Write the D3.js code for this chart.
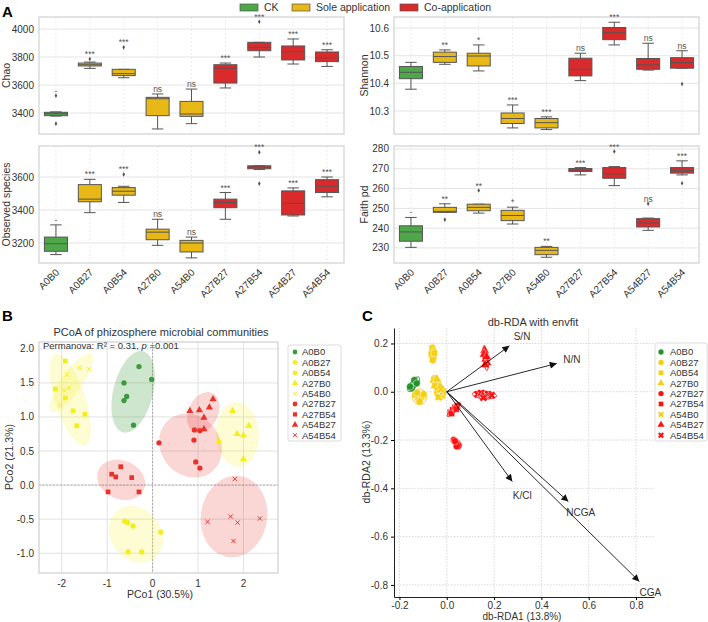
<!DOCTYPE html>
<html>
<head>
<meta charset="utf-8">
<script src="https://cdn.jsdelivr.net/npm/d3@7"></script>
<style>
  body { margin: 0; background: #fff; }
  svg { display: block; font-family: "Liberation Sans", Arial, sans-serif; }
</style>
</head>
<body>
<svg id="fig" width="708" height="622"></svg>
<script>
// ---------- data ----------
const groups = ["A0B0", "A0B27", "A0B54", "A27B0", "A54B0", "A27B27", "A27B54", "A54B27", "A54B54"];
const treatOf = ["CK", "Sole", "Sole", "Sole", "Sole", "Co", "Co", "Co", "Co"];
const treatNames = ["CK", "Sole application", "Co-application"];

// box stats: [low whisker, q1, median, q3, high whisker]
const chaoStats = [
  [3378, 3381, 3395, 3405, 3408], [3719, 3736, 3745, 3757, 3764], [3652, 3667, 3681, 3712, 3712],
  [3286, 3381, 3502, 3512, 3536], [3324, 3376, 3393, 3483, 3571], [3579, 3614, 3721, 3745, 3757],
  [3800, 3845, 3869, 3905, 3905], [3750, 3779, 3838, 3879, 3929], [3733, 3767, 3795, 3836, 3852]
];
const chaoOut = [[3524, 3324], [3786], [3869], [], [], [], [4052], [], []];
const chaoSig = ["-", "***", "***", "ns", "ns", "***", "***", "***", "***"];

const obsStats = [
  [3130, 3150, 3196, 3236, 3310], [3384, 3450, 3466, 3554, 3586], [3446, 3490, 3514, 3536, 3544],
  [3186, 3220, 3266, 3284, 3344], [3110, 3146, 3200, 3216, 3236], [3344, 3414, 3446, 3466, 3506],
  [3646, 3650, 3660, 3668, 3668], [3364, 3370, 3440, 3516, 3534], [3480, 3506, 3544, 3584, 3600]
];
const obsOut = [[], [], [3616], [], [], [], [3750, 3560], [], []];
const obsSig = ["-", "***", "***", "ns", "ns", "***", "***", "***", "***"];

const shanStats = [
  [10.379, 10.417, 10.440, 10.461, 10.476], [10.469, 10.476, 10.497, 10.513, 10.521], [10.445, 10.463, 10.499, 10.509, 10.539],
  [10.239, 10.255, 10.273, 10.293, 10.322], [10.233, 10.239, 10.258, 10.273, 10.279], [10.410, 10.427, 10.451, 10.491, 10.509],
  [10.539, 10.558, 10.583, 10.602, 10.621], [10.448, 10.451, 10.467, 10.490, 10.545], [10.455, 10.455, 10.475, 10.493, 10.518]
];
const shanOut = [[], [], [], [], [], [], [], [], [10.398]];
const shanSig = ["", "**", "*", "***", "***", "ns", "***", "ns", "ns"];

const faithStats = [
  [230.3, 233.4, 238.1, 241.2, 245.4], [248.0, 248.0, 248.5, 250.5, 252.3], [247.6, 248.8, 250.5, 252.1, 252.1],
  [242.1, 243.8, 246.4, 249.0, 250.6], [225.3, 226.6, 228.8, 230.3, 230.8], [266.9, 268.6, 269.4, 270.1, 270.6],
  [261.5, 265.2, 267.4, 270.6, 271.1], [238.9, 240.6, 242.6, 244.8, 245.1], [266.9, 267.8, 269.1, 270.6, 274.0]
];
const faithOut = [[], [244.3], [259.0], [], [], [], [278.7], [252.3], [262.7]];
const faithSig = ["-", "**", "**", "*", "**", "***", "***", "ns", "***"];

const chaoTicks = [3400, 3600, 3800, 4000];
const obsTicks = [3200, 3400, 3600];
const shanTicks = [10.3, 10.4, 10.5, 10.6];
const faithTicks = [230, 240, 250, 260, 270, 280];

// PCoA sample scores
const pcoaPoints = [
  [[-0.30, 1.74], [-0.63, 1.50], [-0.57, 1.30], [-0.63, 1.24], [-0.02, 1.55], [-0.42, 0.88]],
  [[-0.61, -0.53], [-0.55, -0.55], [-0.43, -0.60], [0.18, -0.69], [-0.54, -0.98], [-0.24, -0.98]],
  [[-1.92, 1.82], [-2.14, 1.41], [-1.92, 1.28], [-1.75, 1.09], [-1.49, 1.04], [-1.67, 0.87]],
  [[1.76, 1.09], [2.12, 0.87], [1.86, 0.75], [2.00, 0.73], [1.46, 0.64], [2.00, 0.38]],
  [[-1.60, 1.72], [-1.40, 1.70], [-1.84, 1.43], [-1.95, 1.39], [-2.03, 1.17], [-1.89, 1.62]],
  [[0.14, 0.62], [0.92, 0.81], [1.04, 0.80], [0.91, 0.66], [0.95, 0.34], [1.04, 0.25]],
  [[-0.70, 0.27], [-0.90, 0.16], [-0.81, 0.12], [-0.46, 0.11], [-0.98, -0.10], [-0.30, -0.10]],
  [[0.82, 1.09], [1.03, 1.10], [1.25, 1.14], [1.33, 1.26], [1.13, 0.99], [1.13, 0.82]],
  [[1.81, 0.09], [1.21, -0.54], [1.72, -0.46], [1.87, -0.55], [2.36, -0.49], [1.78, -0.82]]
];
const pcoaXTicks = [-2, -1, 0, 1, 2];
const pcoaYTicks = [-1.0, -0.5, 0.0, 0.5, 1.0, 1.5, 2.0];

// db-RDA site scores
const rdaPoints = [
  [[-0.148, 0.014], [-0.141, 0.028], [-0.131, 0.041], [-0.137, 0.048], [-0.155, 0.021], [-0.127, 0.035]],
  [[-0.132, -0.015], [-0.120, -0.032], [-0.106, -0.022], [-0.098, -0.010], [-0.115, -0.040], [-0.125, -0.005]],
  [[-0.062, 0.180], [-0.058, 0.168], [-0.065, 0.155], [-0.055, 0.145], [-0.060, 0.132], [-0.052, 0.160]],
  [[-0.055, 0.048], [-0.045, 0.040], [-0.035, 0.030], [-0.050, 0.025], [-0.030, 0.018], [-0.042, 0.052]],
  [[-0.040, 0.005], [-0.030, -0.005], [-0.020, -0.015], [-0.035, -0.022], [-0.015, 0.000], [-0.025, 0.010]],
  [[0.030, -0.200], [0.038, -0.208], [0.045, -0.214], [0.050, -0.222], [0.042, -0.226], [0.035, -0.205]],
  [[0.015, -0.085], [0.025, -0.075], [0.035, -0.065], [0.045, -0.058], [0.020, -0.090], [0.040, -0.072]],
  [[0.160, 0.170], [0.158, 0.155], [0.165, 0.135], [0.170, 0.120], [0.162, 0.112], [0.168, 0.145]],
  [[0.130, -0.010], [0.145, -0.005], [0.160, -0.015], [0.175, -0.010], [0.190, -0.015], [0.155, -0.025]]
];
const envNames = ["S/N", "N/N", "K/Cl", "NCGA", "CGA"];
const envX = [0.265, 0.465, 0.277, 0.514, 0.814];
const envY = [0.190, 0.117, -0.372, -0.455, -0.786];
const rdaXTicks = [-0.2, 0.0, 0.2, 0.4, 0.6, 0.8];
const rdaYTicks = [-0.8, -0.6, -0.4, -0.2, 0.0, 0.2];
const rdaLegendOrder = ["A0B0", "A0B27", "A0B54", "A27B0", "A27B27", "A27B54", "A54B0", "A54B27", "A54B54"];

// ---------- styles ----------
const boxColor = {CK: "#4ea84a", Sole: "#e8b816", Co: "#da2a2c"};
const pcoaColor = {CK: "#3c9a3c", Sole: "#f3ee1c", Co: "#e8322b"};
const rdaColor = {CK: "#27922a", Sole: "#f5cf10", Co: "#ff1010"};
const shapeOf = ["circle", "circle", "square", "triangle", "x", "circle", "square", "triangle", "x"];
const txt = "#333";

const svg = d3.select("#fig");
svg.append("rect").attr("width", 708).attr("height", 622).attr("fill", "#fff");

function marker(sel, shape, size, filledX) {
  if (shape === "x") {
    if (filledX) {
      sel.append("path").attr("d", d3.symbol(d3.symbolCross, size)()).attr("transform", "rotate(45)");
    } else {
      const s = Math.sqrt(size) / 2;
      sel.append("path").attr("d", `M${-s},${-s}L${s},${s}M${-s},${s}L${s},${-s}`).attr("fill", "none");
    }
    return;
  }
  const t = {circle: d3.symbolCircle, square: d3.symbolSquare, triangle: d3.symbolTriangle}[shape];
  sel.append("path").attr("d", d3.symbol(t, size)());
}

function ellipsePath(pts, sx, sy, k) {
  const n = pts.length;
  const mx = d3.mean(pts, d => d[0]), my = d3.mean(pts, d => d[1]);
  let sxx = 0, syy = 0, sxy = 0;
  pts.forEach(([a, b]) => { sxx += (a - mx) ** 2; syy += (b - my) ** 2; sxy += (a - mx) * (b - my); });
  sxx /= n - 1; syy /= n - 1; sxy /= n - 1;
  const l11 = Math.sqrt(sxx), l21 = sxy / l11, l22 = Math.sqrt(Math.max(syy - l21 * l21, 0));
  const ring = d3.range(90).map(i => {
    const t = i / 90 * 2 * Math.PI, u = Math.cos(t), v = Math.sin(t);
    return [sx(mx + k * l11 * u), sy(my + k * (l21 * u + l22 * v))];
  });
  return d3.line().curve(d3.curveLinearClosed)(ring);
}

// ---------- panel A: box plots ----------
svg.append("text").attr("x", 2).attr("y", 17).attr("font-size", 15).attr("font-weight", "bold").text("A");

const legA = svg.append("g");
const legAX = [240, 292, 400];
treatNames.forEach((name, i) => {
  legA.append("rect").attr("x", legAX[i]).attr("y", 4).attr("width", 18).attr("height", 7)
    .attr("fill", boxColor[["CK", "Sole", "Co"][i]]).attr("stroke", "#555").attr("stroke-width", 0.7);
  legA.append("text").attr("x", legAX[i] + 24).attr("y", 11).attr("font-size", 10.5).attr("fill", txt).text(name);
});

const boxPanels = [
  {stats: chaoStats, out: chaoOut, sig: chaoSig, ticks: chaoTicks, label: "Chao", range: [39, 344], top: 17, bottom: 134, domain: [3250, 4086], fmt: d3.format("d"), lx: 10, xlab: false},
  {stats: obsStats, out: obsOut, sig: obsSig, ticks: obsTicks, label: "Observed species", range: [39, 344], top: 146, bottom: 263, domain: [3079, 3788], fmt: d3.format("d"), lx: 10, xlab: true},
  {stats: shanStats, out: shanOut, sig: shanSig, ticks: shanTicks, label: "Shannon", range: [394, 699], top: 17, bottom: 134, domain: [10.217, 10.64], fmt: d3.format(".1f"), lx: 368, xlab: false},
  {stats: faithStats, out: faithOut, sig: faithSig, ticks: faithTicks, label: "Faith pd", range: [394, 699], top: 146, bottom: 263, domain: [222.4, 281.5], fmt: d3.format("d"), lx: 368, xlab: true}
];

boxPanels.forEach(p => {
  const x = d3.scaleBand().domain(groups).range(p.range);
  const y = d3.scaleLinear().domain(p.domain).range([p.bottom, p.top]);
  const g = svg.append("g");
  const [x0, x1] = p.range;
  const bw = x.bandwidth() * 0.68;
  const cx = d => x(d) + x.bandwidth() / 2;

  g.selectAll(".hgrid").data(p.ticks).join("line")
    .attr("x1", x0).attr("x2", x1).attr("y1", d => y(d)).attr("y2", d => y(d))
    .attr("stroke", "#e4e4e4").attr("stroke-width", 1);
  g.selectAll(".vgrid").data(groups).join("line")
    .attr("x1", cx).attr("x2", cx).attr("y1", p.top).attr("y2", p.bottom)
    .attr("stroke", "#ececec").attr("stroke-dasharray", "2,2");
  g.append("rect").attr("x", x0).attr("y", p.top).attr("width", x1 - x0).attr("height", p.bottom - p.top)
    .attr("fill", "none").attr("stroke", "#d4d4d4").attr("stroke-width", 1.3);

  g.selectAll(".ytick").data(p.ticks).join("text")
    .attr("x", x0 - 5).attr("y", d => y(d)).attr("dy", "0.35em").attr("text-anchor", "end")
    .attr("font-size", 10).attr("fill", txt).text(p.fmt);
  g.append("text").attr("transform", `translate(${p.lx},${(p.top + p.bottom) / 2}) rotate(-90)`)
    .attr("text-anchor", "middle").attr("font-size", 10.5).attr("fill", txt).text(p.label);

  if (p.xlab) {
    g.selectAll(".xtick").data(groups).join("text")
      .attr("transform", d => `translate(${cx(d) + 4},${p.bottom + 10}) rotate(-45)`)
      .attr("text-anchor", "end").attr("font-size", 10).attr("fill", txt).text(d => d);
  }

  const boxes = groups.map((name, i) => ({name, s: p.stats[i], out: p.out[i], sig: p.sig[i], col: boxColor[treatOf[i]]}));
  const bg = g.selectAll(".box").data(boxes).join("g").attr("transform", d => `translate(${cx(d.name)},0)`);
  const line = "#555";
  bg.append("line").attr("y1", d => y(d.s[4])).attr("y2", d => y(d.s[3])).attr("stroke", line);
  bg.append("line").attr("y1", d => y(d.s[1])).attr("y2", d => y(d.s[0])).attr("stroke", line);
  bg.append("line").attr("x1", -bw / 4).attr("x2", bw / 4).attr("y1", d => y(d.s[4])).attr("y2", d => y(d.s[4])).attr("stroke", line);
  bg.append("line").attr("x1", -bw / 4).attr("x2", bw / 4).attr("y1", d => y(d.s[0])).attr("y2", d => y(d.s[0])).attr("stroke", line);
  bg.append("rect").attr("x", -bw / 2).attr("width", bw)
    .attr("y", d => y(d.s[3])).attr("height", d => Math.max(1, y(d.s[1]) - y(d.s[3])))
    .attr("fill", d => d.col).attr("stroke", line).attr("stroke-width", 1);
  bg.append("line").attr("x1", -bw / 2).attr("x2", bw / 2).attr("y1", d => y(d.s[2])).attr("y2", d => y(d.s[2])).attr("stroke", line);
  bg.selectAll(".out").data(d => d.out).join("path")
    .attr("transform", v => `translate(0,${y(v)})`).attr("d", d3.symbol(d3.symbolDiamond, 6)()).attr("fill", "#555");
  bg.append("text").attr("y", d => y(Math.max(d.s[4], ...d.out)) - 2).attr("text-anchor", "middle")
    .attr("font-size", 8.5).attr("fill", "#555").text(d => d.sig);
});

// ---------- panel B: PCoA ----------
svg.append("text").attr("x", 2).attr("y", 321).attr("font-size", 15).attr("font-weight", "bold").text("B");
const xB = d3.scaleLinear().domain([-2.5, 2.76]).range([39, 278]);
const yB = d3.scaleLinear().domain([-1.29, 2.10]).range([573, 342]);
const gB = svg.append("g");
gB.append("text").attr("x", 161).attr("y", 336).attr("text-anchor", "middle").attr("font-size", 11).attr("fill", txt)
  .text("PCoA of phizosphere microbial communities");
gB.selectAll(".vx").data(pcoaXTicks).join("line").attr("x1", d => xB(d)).attr("x2", d => xB(d)).attr("y1", 342).attr("y2", 573).attr("stroke", "#e2e2e2");
gB.selectAll(".hy").data(pcoaYTicks).join("line").attr("y1", d => yB(d)).attr("y2", d => yB(d)).attr("x1", 39).attr("x2", 278).attr("stroke", "#e2e2e2");
gB.append("line").attr("x1", xB(0)).attr("x2", xB(0)).attr("y1", 342).attr("y2", 573).attr("stroke", "#999").attr("stroke-dasharray", "2,1.5").attr("stroke-width", 0.8);
gB.append("line").attr("y1", yB(0)).attr("y2", yB(0)).attr("x1", 39).attr("x2", 278).attr("stroke", "#999").attr("stroke-dasharray", "2,1.5").attr("stroke-width", 0.8);
gB.append("rect").attr("x", 39).attr("y", 342).attr("width", 239).attr("height", 231).attr("fill", "none").attr("stroke", "#cfcfcf").attr("stroke-width", 1.2);

gB.selectAll(".ell").data(pcoaPoints).join("path")
  .attr("d", d => ellipsePath(d, xB, yB, 2))
  .attr("fill", (d, i) => pcoaColor[treatOf[i]]).attr("fill-opacity", (d, i) => treatOf[i] === "CK" ? 0.25 : 0.2);

pcoaPoints.forEach((pts, i) => {
  const col = pcoaColor[treatOf[i]];
  pts.forEach(([px, py]) => {
    const m = gB.append("g").attr("transform", `translate(${xB(px)},${yB(py)})`).attr("fill", col).attr("stroke", col);
    marker(m, shapeOf[i], shapeOf[i] === "x" ? 18 : 22, false);
    m.selectAll("path").attr("stroke-width", shapeOf[i] === "x" ? 1 : 0);
  });
});

gB.selectAll(".xl").data(pcoaXTicks).join("text").attr("x", d => xB(d)).attr("y", 587).attr("text-anchor", "middle")
  .attr("font-size", 10).attr("fill", txt).text(d => d);
gB.selectAll(".yl").data(pcoaYTicks).join("text").attr("x", 34).attr("y", d => yB(d)).attr("dy", "0.35em").attr("text-anchor", "end")
  .attr("font-size", 10).attr("fill", txt).text(d => d.toFixed(1));
gB.append("text").attr("x", 160).attr("y", 598).attr("text-anchor", "middle").attr("font-size", 10.5).attr("fill", txt).text("PCo1 (30.5%)");
gB.append("text").attr("transform", "translate(13,457) rotate(-90)").attr("text-anchor", "middle").attr("font-size", 10.5).attr("fill", txt).text("PCo2 (21.3%)");

const perm = gB.append("text").attr("x", 43).attr("y", 349).attr("font-size", 9.5).attr("fill", txt);
perm.append("tspan").text("Permanova: R\u00b2 = 0.31, ");
perm.append("tspan").attr("font-style", "italic").text("p");
perm.append("tspan").text(" =0.001");

const legB = gB.append("g");
legB.append("rect").attr("x", 288).attr("y", 345).attr("width", 53).attr("height", 96).attr("rx", 2).attr("fill", "#fff").attr("stroke", "#dcdcdc");
groups.forEach((name, i) => {
  const yy = 352 + i * 10.4;
  const col = pcoaColor[treatOf[i]];
  const m = legB.append("g").attr("transform", `translate(295,${yy})`).attr("fill", col).attr("stroke", col);
  marker(m, shapeOf[i], shapeOf[i] === "x" ? 16 : 18, false);
  m.selectAll("path").attr("stroke-width", shapeOf[i] === "x" ? 1 : 0);
  legB.append("text").attr("x", 302).attr("y", yy).attr("dy", "0.35em").attr("font-size", 9.5).attr("fill", txt).text(name);
});

// ---------- panel C: db-RDA ----------
svg.append("text").attr("x", 362).attr("y", 321).attr("font-size", 15).attr("font-weight", "bold").text("C");
const xC = d3.scaleLinear().domain([-0.223, 0.876]).range([394, 654]);
const yC = d3.scaleLinear().domain([-0.85, 0.264]).range([597, 328]);
const gC = svg.append("g");
gC.append("text").attr("x", 533).attr("y", 326).attr("text-anchor", "middle").attr("font-size", 11).attr("fill", txt).text("db-RDA with envfit");
gC.selectAll(".vx").data(rdaXTicks).join("line").attr("x1", d => xC(d)).attr("x2", d => xC(d)).attr("y1", 328).attr("y2", 597)
  .attr("stroke", "#d8d8d8").attr("stroke-dasharray", "1.5,1.5");
gC.selectAll(".hy").data(rdaYTicks).join("line").attr("y1", d => yC(d)).attr("y2", d => yC(d)).attr("x1", 394).attr("x2", 654)
  .attr("stroke", "#d8d8d8").attr("stroke-dasharray", "1.5,1.5");

gC.append("g").attr("transform", "translate(0,597)")
  .call(d3.axisBottom(xC).tickValues(rdaXTicks).tickSize(3).tickPadding(1.5).tickSizeOuter(0).tickFormat(d => d.toFixed(1)))
  .call(a => a.selectAll("text").attr("font-size", 10).attr("fill", txt).attr("font-family", null));
gC.append("g").attr("transform", "translate(394,0)")
  .call(d3.axisLeft(yC).tickValues(rdaYTicks).tickSize(3).tickSizeOuter(0).tickFormat(d => d.toFixed(1)))
  .call(a => a.selectAll("text").attr("font-size", 10).attr("fill", txt).attr("font-family", null));
gC.selectAll(".domain").attr("stroke", "#222");

gC.append("text").attr("x", 522).attr("y", 620).attr("text-anchor", "middle").attr("font-size", 10).attr("fill", txt).text("db-RDA1 (13.8%)");
gC.append("text").attr("transform", "translate(370,462) rotate(-90)").attr("text-anchor", "middle").attr("font-size", 10.5).attr("fill", txt).text("db-RDA2 (13.3%)");

rdaPoints.forEach((pts, i) => {
  const col = rdaColor[treatOf[i]];
  pts.forEach(([px, py]) => {
    const m = gC.append("g").attr("transform", `translate(${xC(px)},${yC(py)})`).attr("fill", col).attr("stroke", "#fff");
    marker(m, shapeOf[i], 40, true);
    m.selectAll("path").attr("stroke-width", 0.5);
  });
});
gC.selectAll(".ell").data(rdaPoints).join("path")
  .attr("d", d => ellipsePath(d, xC, yC, 2.4))
  .attr("fill", "none").attr("stroke", (d, i) => rdaColor[treatOf[i]]).attr("stroke-width", 1);

svg.append("defs").append("marker").attr("id", "ah").attr("viewBox", "0 0 10 10").attr("refX", 10).attr("refY", 5)
  .attr("markerWidth", 9).attr("markerHeight", 7).attr("markerUnits", "userSpaceOnUse").attr("orient", "auto")
  .append("path").attr("d", "M0,0L10,5L0,10Z").attr("fill", "#111");

envNames.forEach((name, i) => {
  const x0 = xC(0), y0 = yC(0), x1 = xC(envX[i]), y1 = yC(envY[i]);
  gC.append("line").attr("x1", x0).attr("y1", y0).attr("x2", x1).attr("y2", y1)
    .attr("stroke", "#111").attr("stroke-width", 0.9).attr("marker-end", "url(#ah)");
  const L = Math.hypot(x1 - x0, y1 - y0), ux = (x1 - x0) / L, uy = (y1 - y0) / L;
  const off = 12 + name.length * 1.2;
  gC.append("text").attr("x", x1 + ux * off).attr("y", y1 + uy * off).attr("dy", "0.35em").attr("text-anchor", "middle")
    .attr("font-size", 10).attr("fill", txt).text(name);
});

const legC = gC.append("g");
legC.append("rect").attr("x", 655).attr("y", 343).attr("width", 52).attr("height", 98).attr("rx", 2).attr("fill", "#fff").attr("stroke", "#dcdcdc");
rdaLegendOrder.forEach((name, j) => {
  const i = groups.indexOf(name);
  const yy = 352 + j * 10.4;
  const m = legC.append("g").attr("transform", `translate(661,${yy})`).attr("fill", rdaColor[treatOf[i]]);
  marker(m, shapeOf[i], 22, true);
  legC.append("text").attr("x", 670).attr("y", yy).attr("dy", "0.35em").attr("font-size", 9.5).attr("fill", txt).text(name);
});
</script>
</body>
</html>
